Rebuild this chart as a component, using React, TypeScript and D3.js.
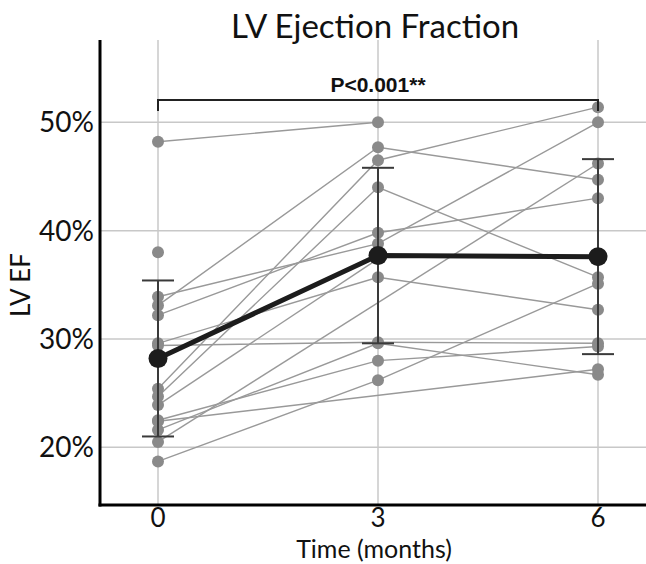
import React from "react";
import * as d3 from "d3";

// months of follow-up
const months = [0, 3, 6];

// LV EF (%) per patient at 0, 3 and 6 months (null = missing visit)
const ef0 = [48.2, 38.0, 33.1, 25.4, 24.7, 32.2, 33.9, 29.6, 29.4, 21.6, 22.5, 18.7, 22.4, 20.5, 23.9];
const ef3 = [50.0, null, 47.7, 46.5, 44.0, 39.8, 38.8, 35.7, 29.7, 29.6, 28.0, 26.2, null, null, 37.4];
const ef6 = [null, null, 44.7, 51.4, 35.7, 43.0, 50.0, 32.7, 29.6, 26.7, 29.3, 35.1, 27.2, 46.2, null];

// group mean and SD
const meanEF = [28.2, 37.7, 37.6];
const sdEF = [7.2, 8.1, 9.0];

const yTicks = [20, 30, 40, 50];
const pLabel = "P<0.001**";

const W = 646;
const H = 564;
const axisX = 100;
const axisY = 505;
const plotTop = 40;

const App = () => {
  const x = d3.scaleLinear().domain([0, 6]).range([158, 598]);
  const y = d3.scaleLinear().domain([20, 50]).range([447.3, 122.3]);

  const line = d3
    .line<[number, number]>()
    .x((d) => x(d[0]))
    .y((d) => y(d[1]));

  // one path per patient, skipping missing visits
  const patients = ef0.map((v, i) => {
    const vals = [v, ef3[i], ef6[i]];
    return months
      .map((m, j) => [m, vals[j]] as [number, number | null])
      .filter((d) => d[1] != null) as [number, number][];
  });

  const meanPts = months.map((m, i) => [m, meanEF[i]] as [number, number]);
  const font = "Lato, 'Open Sans', sans-serif";

  return (
    <svg
      width={W}
      height={H}
      style={{ position: "absolute", left: 0, top: 0, background: "#fff" }}
    >
      {/* grid */}
      {yTicks.map((t) => (
        <line key={"gy" + t} x1={axisX} x2={W} y1={y(t)} y2={y(t)} stroke="#c8c8c8" strokeWidth={1.5} />
      ))}
      {months.map((m) => (
        <line key={"gx" + m} x1={x(m)} x2={x(m)} y1={plotTop} y2={axisY} stroke="#c8c8c8" strokeWidth={1.5} />
      ))}

      {/* patient lines */}
      {patients.map((p, i) => (
        <path key={"l" + i} d={line(p) || ""} fill="none" stroke="#999" strokeWidth={1.4} />
      ))}
      {patients.map((p, i) =>
        p.map((d, j) => (
          <circle key={"p" + i + "-" + j} cx={x(d[0])} cy={y(d[1])} r={6} fill="#8a8a8a" />
        ))
      )}

      {/* error bars */}
      {months.map((m, i) => {
        const hi = y(meanEF[i] + sdEF[i]);
        const lo = y(meanEF[i] - sdEF[i]);
        return (
          <g key={"e" + m} stroke="#3a3a3a" strokeWidth={2}>
            <line x1={x(m)} x2={x(m)} y1={hi} y2={lo} />
            <line x1={x(m) - 16} x2={x(m) + 16} y1={hi} y2={hi} />
            <line x1={x(m) - 16} x2={x(m) + 16} y1={lo} y2={lo} />
          </g>
        );
      })}

      {/* mean */}
      <path d={line(meanPts) || ""} fill="none" stroke="#1c1c1c" strokeWidth={5} />
      {meanPts.map((d) => (
        <circle key={"m" + d[0]} cx={x(d[0])} cy={y(d[1])} r={9.5} fill="#1c1c1c" />
      ))}

      {/* significance bracket */}
      <path
        d={`M${x(0)},${111}V${100}H${x(6)}V${111}`}
        fill="none"
        stroke="#222"
        strokeWidth={2}
      />
      <text
        x={(x(0) + x(6)) / 2}
        y={92}
        textAnchor="middle"
        fontFamily="'Liberation Sans Narrow', 'Liberation Sans', Arial, sans-serif"
        fontWeight="bold"
        fontSize={21}
        fill="#111"
      >
        {pLabel}
      </text>

      {/* axes */}
      <line x1={axisX} x2={axisX} y1={plotTop} y2={axisY + 1.5} stroke="#000" strokeWidth={3} />
      <line x1={axisX - 1.5} x2={W} y1={axisY} y2={axisY} stroke="#000" strokeWidth={3} />

      {yTicks.map((t) => (
        <text
          key={"ty" + t}
          x={94}
          y={y(t)}
          dy="0.36em"
          textAnchor="end"
          fontFamily={font}
          fontSize={28}
          fill="#111"
        >
          {t + "%"}
        </text>
      ))}
      {months.map((m) => (
        <text
          key={"tx" + m}
          x={x(m)}
          y={527}
          textAnchor="middle"
          fontFamily={font}
          fontSize={26}
          fill="#111"
        >
          {m}
        </text>
      ))}

      <text x={374} y={558} textAnchor="middle" fontFamily={font} fontSize={25} fill="#111">
        Time (months)
      </text>
      <text
        transform={`translate(30,285) rotate(-90)`}
        textAnchor="middle"
        fontFamily={font}
        fontSize={26}
        fill="#111"
      >
        LV EF
      </text>
      <text x={375} y={38} textAnchor="middle" fontFamily={font} fontSize={33} fill="#111">
        LV Ejection Fraction
      </text>
    </svg>
  );
};

export default App;
